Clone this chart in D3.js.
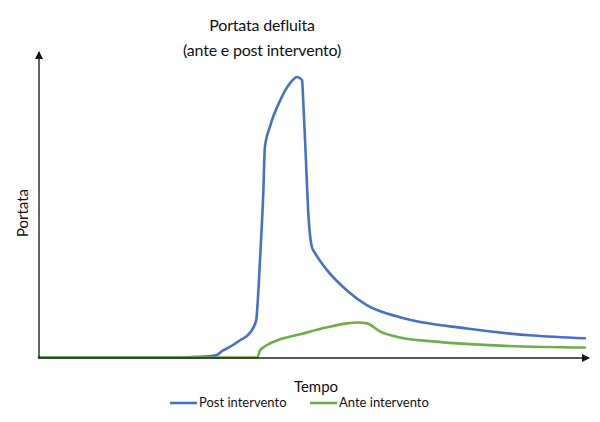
<!DOCTYPE html>
<html>
<head>
<meta charset="utf-8">
<script src="https://cdn.jsdelivr.net/npm/d3@7"></script>
<style>
  html, body { margin: 0; padding: 0; background: #fff; }
  svg { display: block; font-family: Lato, "Open Sans", sans-serif; }
</style>
</head>
<body>
<svg id="chart" width="600" height="422"></svg>
<script>
// Time (0..100) and flow (0..100)
const postT = [0, 23.9, 29.4, 32.5, 33.6, 34.4, 36.7, 38.6, 39.7, 40.0, 40.4, 41.0, 41.3, 42.2, 44.1, 45.9, 47.2, 48.1, 48.3, 48.8, 49.2, 49.9, 50.5, 52.7, 56.3, 60.0, 66.0, 78.2, 90.3, 99.8];
const postQ = [0, 0, 0.2, 0.8, 2.3, 3.0, 5.6, 8.2, 12.2, 18.8, 31.9, 53.9, 69.1, 75.7, 84.5, 90.1, 92.1, 91.1, 84.5, 64.8, 48.4, 36.2, 34.2, 28.6, 22.0, 17.1, 13.2, 9.5, 7.2, 6.3];

const anteT = [0, 39.9, 40.4, 41.0, 42.2, 43.5, 47.7, 52.7, 56.3, 58.3, 60.0, 62.3, 66.0, 72.0, 84.3, 99.8];
const anteQ = [0, 0, 2.3, 3.3, 4.6, 5.6, 7.6, 9.9, 11.2, 11.5, 11.2, 8.6, 6.6, 5.3, 3.9, 3.3];

const seriesNames = ['Post intervento', 'Ante intervento'];
const seriesColors = ['#4472c4', '#70ad47'];

const svg = d3.select('#chart');

const x = d3.scaleLinear().domain([0, 100]).range([39, 586]);
const y = d3.scaleLinear().domain([0, 100]).range([357.5, 53]);

const line = d3.line()
  .x(d => x(d[0]))
  .y(d => y(d[1]))
  .curve(d3.curveMonotoneX);

const series = [
  d3.zip(postT, postQ),
  d3.zip(anteT, anteQ)
];

// Title
svg.append('text')
  .attr('x', 262).attr('y', 31)
  .attr('text-anchor', 'middle')
  .attr('font-size', 16)
  .attr('letter-spacing', -0.2)
  .attr('fill', '#111')
  .text('Portata defluita');
svg.append('text')
  .attr('x', 262).attr('y', 56)
  .attr('text-anchor', 'middle')
  .attr('font-size', 16)
  .attr('letter-spacing', -0.2)
  .attr('fill', '#111')
  .text('(ante e post intervento)');

// Arrow marker for axes
svg.append('defs')
  .append('marker')
  .attr('id', 'arrow')
  .attr('markerWidth', 8).attr('markerHeight', 8)
  .attr('refX', 7).attr('refY', 4)
  .attr('orient', 'auto')
  .attr('markerUnits', 'userSpaceOnUse')
  .append('path')
  .attr('d', 'M0,0 L8,4 L0,8 z')
  .attr('fill', '#111');

// Series lines
series.forEach((pts, i) => {
  svg.append('path')
    .datum(pts)
    .attr('fill', 'none')
    .attr('stroke', seriesColors[i])
    .attr('stroke-width', 2.6)
    .attr('stroke-linejoin', 'round')
    .attr('stroke-linecap', 'round')
    .attr('d', line);
});

// Axes with arrows
svg.append('line')
  .attr('x1', x(0)).attr('y1', 358)
  .attr('x2', 589).attr('y2', 358)
  .attr('stroke', '#222').attr('stroke-width', 1.3)
  .attr('marker-end', 'url(#arrow)');
svg.append('line')
  .attr('x1', x(0)).attr('y1', 358.6)
  .attr('x2', x(0)).attr('y2', 52)
  .attr('stroke', '#111').attr('stroke-width', 1.3)
  .attr('marker-end', 'url(#arrow)');

// Axis titles
svg.append('text')
  .attr('transform', 'translate(28,213) rotate(-90)')
  .attr('text-anchor', 'middle')
  .attr('font-size', 15)
  .attr('fill', '#111')
  .text('Portata');
svg.append('text')
  .attr('x', 316).attr('y', 392)
  .attr('text-anchor', 'middle')
  .attr('font-size', 15)
  .attr('fill', '#111')
  .text('Tempo');

// Legend
const legendX = [170, 310];
seriesNames.forEach((name, i) => {
  const g = svg.append('g').attr('transform', `translate(${legendX[i]},407)`);
  g.append('line')
    .attr('x1', 0).attr('x2', 27)
    .attr('y1', -4).attr('y2', -4)
    .attr('stroke', seriesColors[i])
    .attr('stroke-width', 2.6);
  g.append('text')
    .attr('x', 29).attr('y', 0)
    .attr('font-size', 13)
    .attr('fill', '#111')
    .text(name);
});
</script>
</body>
</html>
